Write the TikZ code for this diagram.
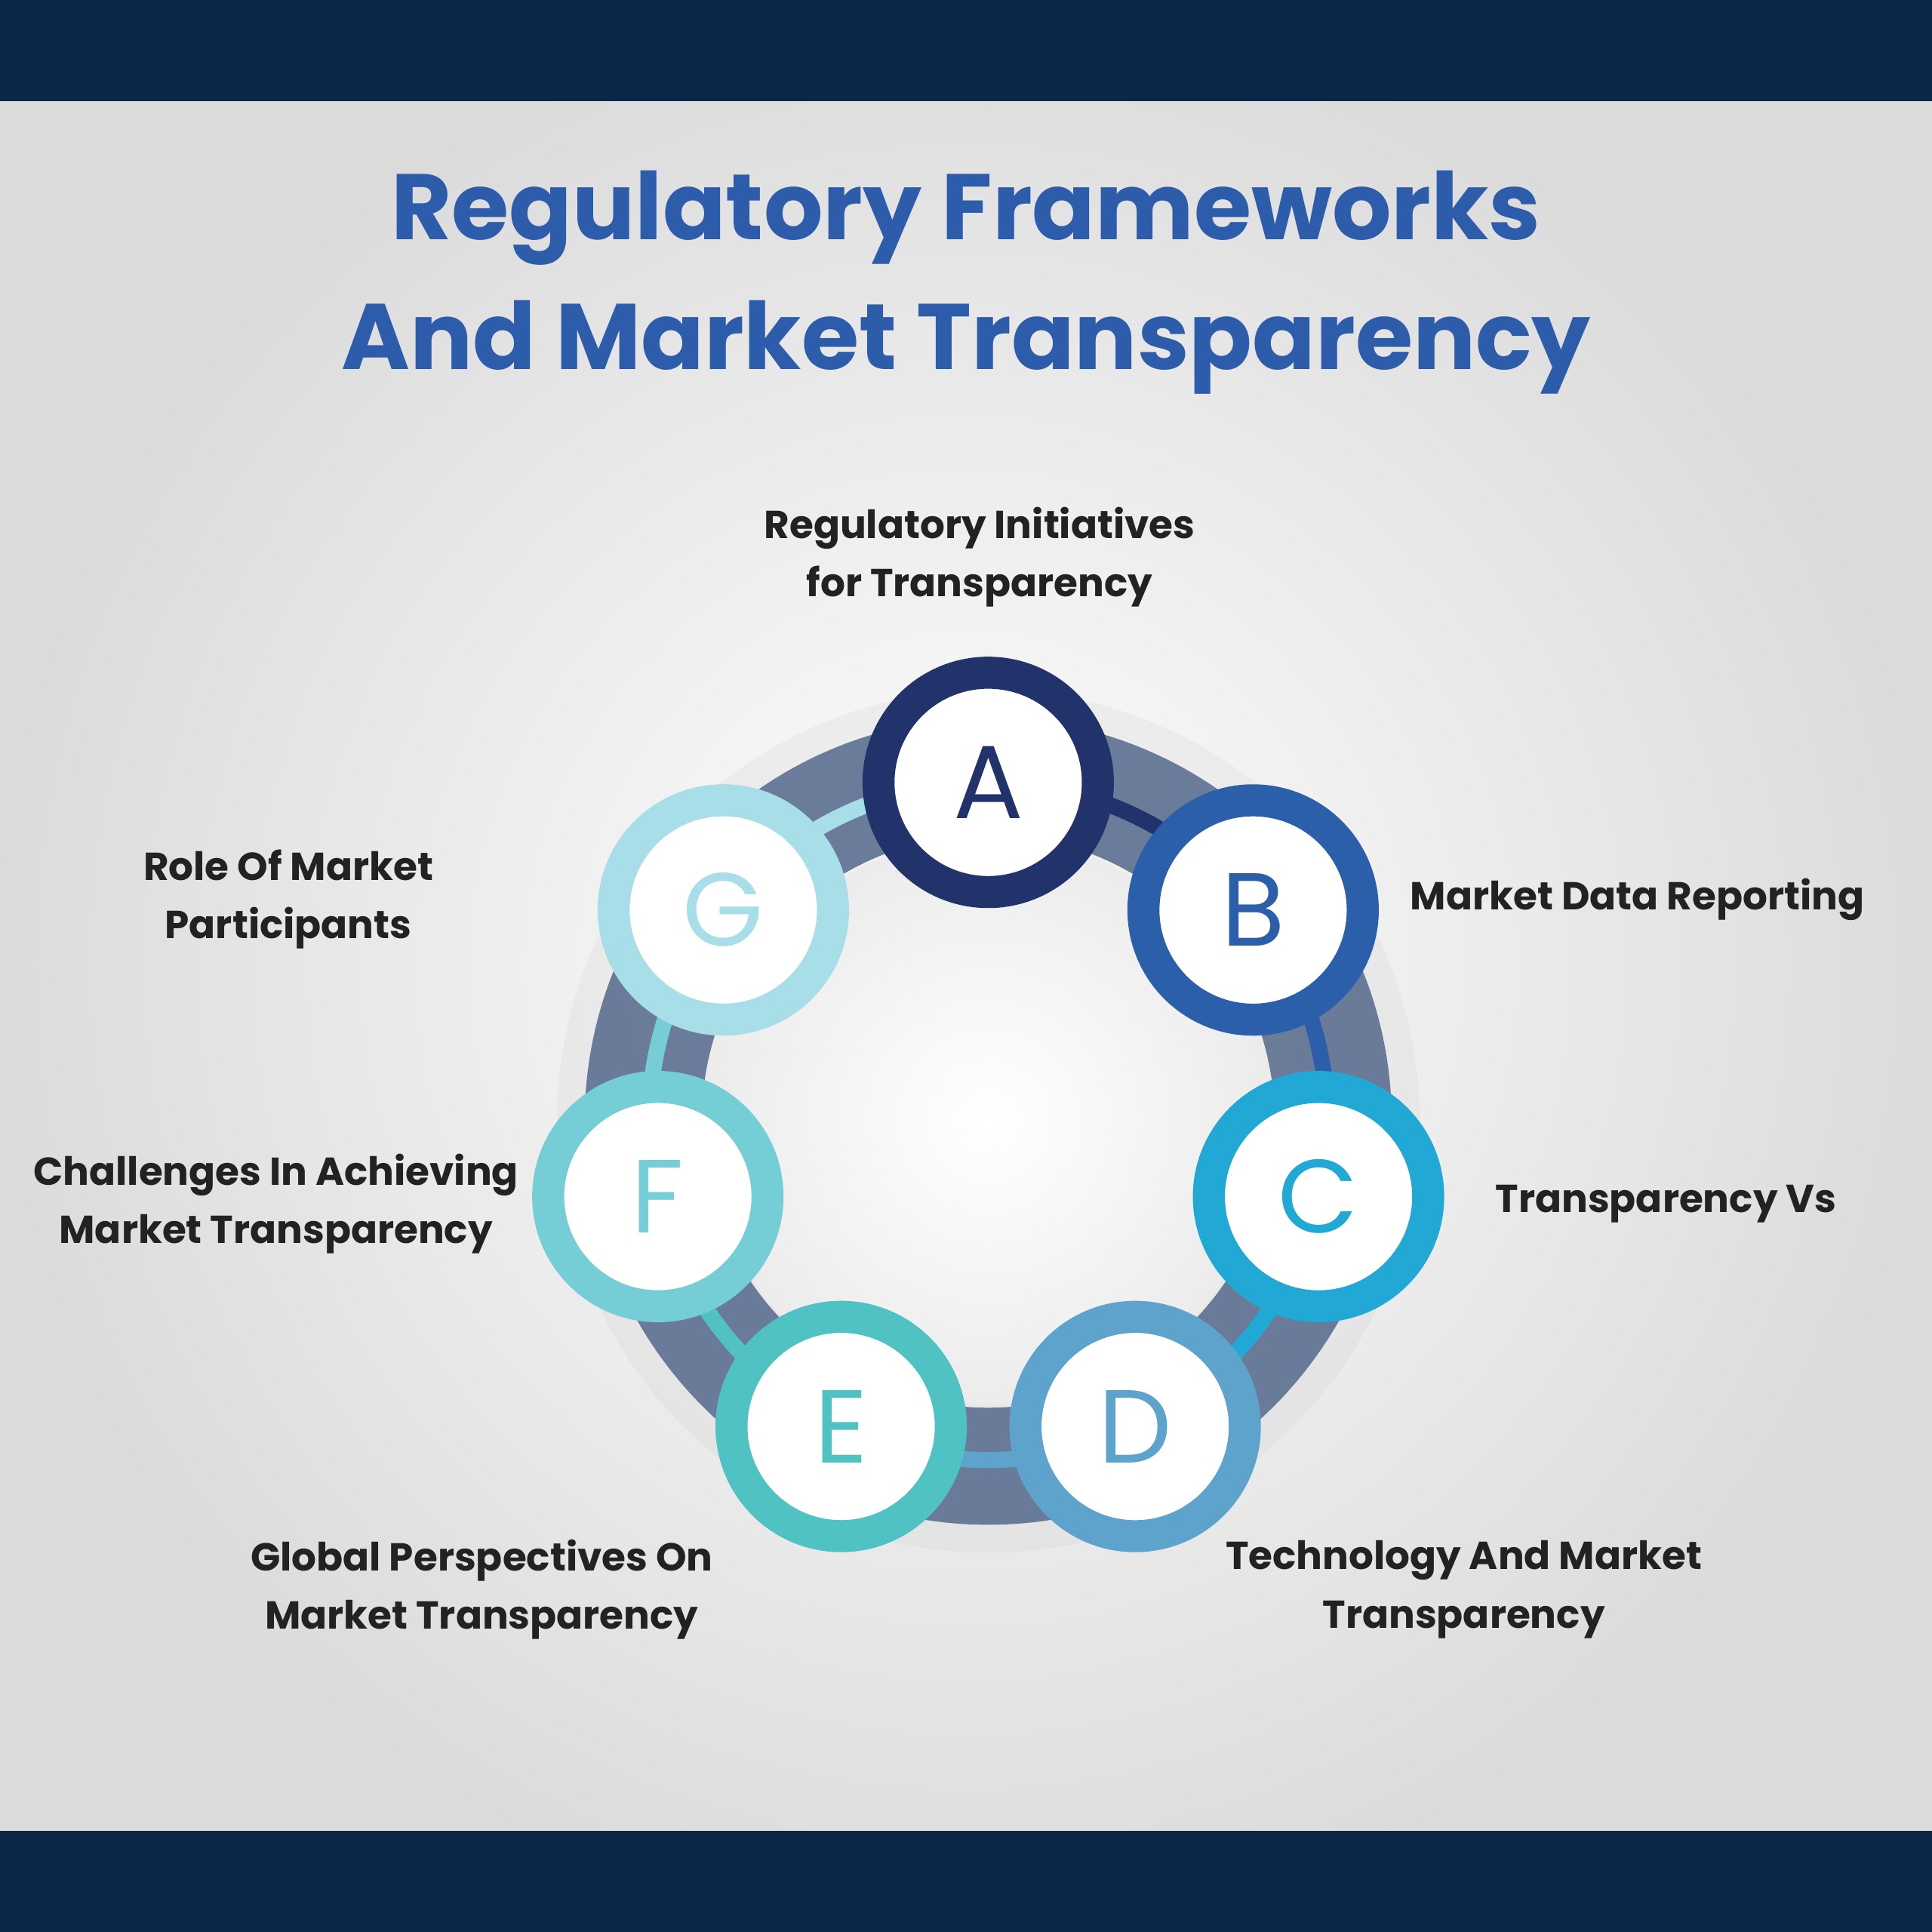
\documentclass[tikz,border=0pt]{standalone}
\usepackage{fontspec}
\setmainfont{Poppins}
\usetikzlibrary{positioning}
\definecolor{navy}{HTML}{0B2646}
\definecolor{titleblue}{HTML}{2C5CAA}
\definecolor{txt}{HTML}{222222}
\definecolor{cA}{HTML}{22336B}
\definecolor{cB}{HTML}{2B5FAA}
\definecolor{cC}{HTML}{22A8D4}
\definecolor{cD}{HTML}{5EA3CB}
\definecolor{cE}{HTML}{50C2C4}
\definecolor{cF}{HTML}{75CDD6}
\definecolor{cG}{HTML}{A8DEE8}
\definecolor{ringc}{HTML}{5C7090}
\begin{document}
\begin{tikzpicture}
	[every node/.style={inner sep=0pt},
	 lbl/.style={text=txt,font=\fontsize{9}{13.5}\selectfont\bfseries,align=center},
	 stage/.style={circle,minimum size=1.78cm,fill=white,line width=0.26cm,
	   font=\fontsize{24}{24}\selectfont}]
	% background
	\useasboundingbox (0,0) rectangle (15.68,15.68);
	\shade[inner color=white,outer color=gray!28] (0,0) rectangle (15.68,15.68);
	\fill[navy] (0,14.86) rectangle (15.68,15.68);
	\fill[navy] (0,0) rectangle (15.68,0.82);
	% title
	\node[text=titleblue,font=\fontsize{21.5}{30}\selectfont\bfseries] (t1) at (7.84,13.91) {Regulatory Frameworks};
	\node[text=titleblue,font=\fontsize{21.5}{30}\selectfont\bfseries] (t2) at (7.84,12.86) {And Market Transparency};
	% ring
	\coordinate (o) at (8.02,6.58);
	\fill[gray!40,opacity=.2] (o) circle (3.5);
	\draw[ringc,opacity=.9,line width=0.95cm] (o) circle (2.8);
	\foreach \n/\c [count=\i from 0] in {A/cA,B/cB,C/cC,D/cD,E/cE,F/cF,G/cG}{
		\draw[\c,line width=0.13cm] ([shift={(90-51.43*\i:2.75)}]o) arc (90-51.43*\i:90-51.43*\i-51.43:2.75);
	}
	\shade[inner color=white,outer color=gray!15] (o) circle (2.3);
	% stages
	\foreach \n/\c [count=\i from 0] in {A/cA,B/cB,C/cC,D/cD,E/cE,F/cF,G/cG}{
		\node[stage,draw=\c,text=\c] (n\n) at ([shift={(90-51.43*\i:2.75)}]o) {\n};
	}
	% labels
	\node[lbl] (lA) at (7.95,11.16) {Regulatory Initiatives\\for Transparency};
	\node[lbl,anchor=west] (lB) at (11.44,8.38) {Market Data Reporting};
	\node[lbl,anchor=west] (lC) at (12.13,5.91) {Transparency Vs};
	\node[lbl] (lD) at (11.88,2.78) {Technology And Market\\Transparency};
	\node[lbl] (lE) at (3.91,2.78) {Global Perspectives On\\Market Transparency};
	\node[lbl] (lF) at (2.24,5.91) {Challenges In Achieving\\Market Transparency};
	\node[lbl] (lG) at (2.34,8.38) {Role Of Market\\Participants};
\end{tikzpicture}
\end{document}
